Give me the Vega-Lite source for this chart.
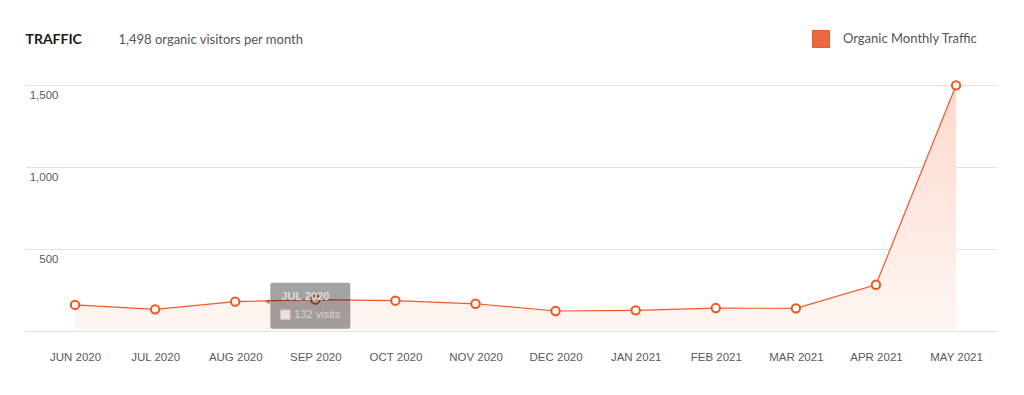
{
  "$schema": "https://vega.github.io/schema/vega-lite/v6.json",
  "autosize": "none",
  "width": 972,
  "height": 246,
  "padding": {"left": 25, "top": 85, "right": 27, "bottom": 64},
  "background": "#ffffff",
  "config": {"view": {"stroke": null}},
  "datasets": {
    "traffic": [
      {"month": "JUN 2020", "visits": 159},
      {"month": "JUL 2020", "visits": 132},
      {"month": "AUG 2020", "visits": 179},
      {"month": "SEP 2020", "visits": 191},
      {"month": "OCT 2020", "visits": 185},
      {"month": "NOV 2020", "visits": 166},
      {"month": "DEC 2020", "visits": 122},
      {"month": "JAN 2021", "visits": 126},
      {"month": "FEB 2021", "visits": 140},
      {"month": "MAR 2021", "visits": 138},
      {"month": "APR 2021", "visits": 282},
      {"month": "MAY 2021", "visits": 1498}
    ],
    "tip": [
      {"month": "SEP 2020", "visits": 191, "head": "JUL 2020", "body": "132 visits"}
    ]
  },
  "data": {"name": "traffic"},
  "encoding": {
    "x": {
      "field": "month",
      "type": "ordinal",
      "sort": null,
      "scale": {"type": "point", "padding": 0.568, "align": 0.55},
      "axis": {
        "labelAngle": 0,
        "ticks": false,
        "tickSize": 0,
        "domain": false,
        "labelPadding": 20,
        "labelFont": "Liberation Sans",
        "labelFontSize": 11.5,
        "labelColor": "#5a5a5a",
        "title": "1,498 organic visitors per month",
        "titleX": 93,
        "titleY": -292,
        "titleAlign": "left",
        "titleBaseline": "middle",
        "titleAnchor": null,
        "titleFont": "Lato",
        "titleFontSize": 13,
        "titleFontWeight": "normal",
        "titleColor": "#555555"
      }
    },
    "y": {
      "field": "visits",
      "type": "quantitative",
      "scale": {"domain": [0, 1500], "nice": false, "zero": true},
      "axis": {
        "values": [0, 500, 1000, 1500],
        "grid": true,
        "gridColor": "#e2e2e2",
        "gridWidth": 1,
        "domain": false,
        "ticks": false,
        "tickSize": 0,
        "labelExpr": "datum.value === 0 ? '' : format(datum.value, ',')",
        "labelAlign": "right",
        "labelBaseline": "top",
        "labelPadding": -33,
        "labelOffset": 4,
        "labelFont": "Liberation Sans",
        "labelFontSize": 11.5,
        "labelColor": "#5a5a5a",
        "title": "TRAFFIC",
        "titleX": 0,
        "titleY": -46,
        "titleAngle": 0,
        "titleAlign": "left",
        "titleBaseline": "middle",
        "titleAnchor": null,
        "titleFont": "Lato",
        "titleFontSize": 14,
        "titleFontWeight": "bold",
        "titleColor": "#1a1a1a"
      }
    }
  },
  "layer": [
    {
      "mark": {
        "type": "area",
        "color": {
          "gradient": "linear",
          "x1": 0, "y1": 0, "x2": 0, "y2": 1,
          "stops": [
            {"offset": 0, "color": "#fcd9cc"},
            {"offset": 1, "color": "#fef6f3"}
          ]
        }
      }
    },
    {
      "mark": {"type": "line", "strokeWidth": 1.2},
      "encoding": {
        "color": {
          "datum": "Organic Monthly Traffic",
          "scale": {"range": ["#f2592a"]},
          "legend": {
            "title": null,
            "orient": "none",
            "legendX": 787,
            "legendY": -55,
            "symbolType": "square",
            "symbolSize": 289,
            "labelFont": "Lato",
            "labelFontSize": 13,
            "labelColor": "#555555",
            "labelOffset": 13,
            "padding": 0,
            "encode": {
              "symbols": {"update": {"fill": {"value": "#ea6a40"}, "stroke": {"value": "#e4532a"}, "strokeWidth": {"value": 1}, "opacity": {"value": 1}}}
            }
          }
        }
      }
    },
    {
      "mark": {"type": "point", "filled": true, "fill": "#ffffff", "stroke": "#f2541e", "strokeWidth": 2, "size": 70, "opacity": 1}
    },
    {
      "data": {"name": "tip"},
      "mark": {"type": "rect", "fill": "#000000", "opacity": 0.36, "cornerRadius": 2, "xOffset": -45, "x2Offset": 35, "yOffset": -17, "y2Offset": 29},
      "encoding": {"x2": {"field": "month"}, "y2": {"field": "visits"}}
    },
    {
      "data": {"name": "tip"},
      "mark": {"type": "point", "shape": "triangle-left", "filled": true, "fill": "#000000", "opacity": 0.36, "size": 30, "xOffset": -48, "yOffset": 2}
    },
    {
      "data": {"name": "tip"},
      "mark": {"type": "text", "align": "left", "baseline": "middle", "font": "Liberation Sans", "fontSize": 11, "fontWeight": "bold", "color": "#dcdcdc", "xOffset": -34, "yOffset": -3},
      "encoding": {"text": {"field": "head"}}
    },
    {
      "data": {"name": "tip"},
      "mark": {"type": "text", "align": "left", "baseline": "middle", "font": "Liberation Sans", "fontSize": 11, "color": "#d6d6d6", "xOffset": -21, "yOffset": 15},
      "encoding": {"text": {"field": "body"}}
    },
    {
      "data": {"name": "tip"},
      "mark": {"type": "point", "shape": "square", "filled": true, "fill": "#e4e4e4", "stroke": "#f0b8a8", "strokeWidth": 1, "opacity": 1, "size": 90, "xOffset": -30, "yOffset": 15}
    }
  ]
}
